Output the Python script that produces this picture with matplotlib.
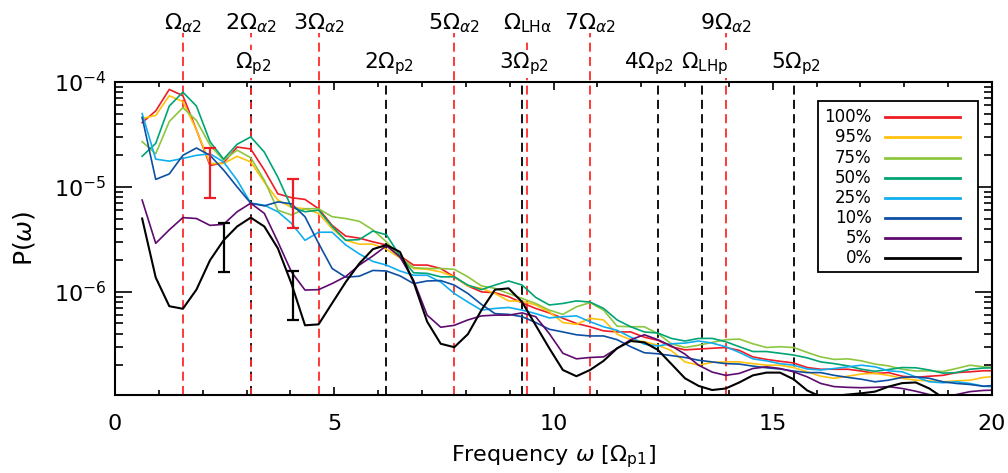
import numpy as np
import matplotlib
matplotlib.use("Agg")
import matplotlib.pyplot as plt
from matplotlib.ticker import LogLocator, NullFormatter, MultipleLocator, LogFormatterMathtext
from matplotlib.lines import Line2D
from matplotlib.patches import Rectangle

plt.rcParams['font.family'] = ['DejaVu Sans']
plt.rcParams['mathtext.fontset'] = 'dejavusans'
plt.rcParams['lines.scale_dashes'] = False

# ---------------- data ----------------
dw = 0.3095                      # frequency resolution [Omega_p1]
freq = dw * np.arange(2, 66)     # sample frequencies

p100 = [4.1e-5, 5.3e-5, 8.5e-5, 7.4e-5, 3.5e-5, 1.6e-5, 1.7e-5, 2.4e-5, 2.3e-5, 1.45e-5,
        8.6e-6, 7.9e-6, 7.6e-6, 6.2e-6, 4.3e-6, 3.4e-6, 3.25e-6, 3.0e-6, 2.8e-6, 2.2e-6,
        1.8e-6, 1.8e-6, 1.67e-6, 1.39e-6, 1.14e-6, 1.0e-6, 9.8e-7, 9.0e-7, 7.85e-7, 6.95e-7,
        6.3e-7, 5.6e-7, 5.0e-7, 4.65e-7, 4.25e-7, 4.15e-7, 4.15e-7, 3.7e-7, 3.45e-7, 3.0e-7,
        2.8e-7, 2.85e-7, 2.9e-7, 2.95e-7, 2.77e-7, 2.4e-7, 2.27e-7, 2.18e-7, 2.1e-7, 1.9e-7,
        1.83e-7, 1.83e-7, 1.83e-7, 1.76e-7, 1.67e-7, 1.7e-7, 1.57e-7, 1.53e-7, 1.57e-7, 1.6e-7,
        1.7e-7, 1.73e-7, 1.77e-7, 1.77e-7]
p95 = [4.5e-5, 4.8e-5, 7.4e-5, 6.5e-5, 3.5e-5, 1.67e-5, 1.67e-5, 1.96e-5, 1.73e-5, 1.11e-5,
       7.5e-6, 6.4e-6, 6.2e-6, 5.6e-6, 4.0e-6, 3.1e-6, 2.85e-6, 2.85e-6, 2.55e-6, 2.1e-6,
       1.67e-6, 1.64e-6, 1.55e-6, 1.39e-6, 1.14e-6, 1.08e-6, 9.65e-7, 8.2e-7, 8.15e-7, 7.5e-7,
       6.45e-7, 5.1e-7, 4.9e-7, 5.6e-7, 5.4e-7, 3.95e-7, 3.5e-7, 3.35e-7, 3.1e-7, 2.75e-7,
       2.15e-7, 2.0e-7, 2.13e-7, 2.15e-7, 2.15e-7, 2.07e-7, 2.0e-7, 2.0e-7, 1.9e-7, 1.73e-7,
       1.57e-7, 1.5e-7, 1.57e-7, 1.65e-7, 1.67e-7, 1.6e-7, 1.5e-7, 1.44e-7, 1.42e-7, 1.39e-7,
       1.42e-7, 1.44e-7, 1.53e-7, 1.57e-7]
p75 = [2.7e-5, 2.07e-5, 4.2e-5, 5.7e-5, 4.3e-5, 2.5e-5, 1.8e-5, 2.24e-5, 1.9e-5, 1.16e-5,
       6.0e-6, 5.4e-6, 6.2e-6, 6.2e-6, 5.2e-6, 5.0e-6, 4.7e-6, 3.9e-6, 3.0e-6, 2.15e-6,
       1.7e-6, 1.67e-6, 1.67e-6, 1.64e-6, 1.39e-6, 1.14e-6, 1.08e-6, 9.65e-7, 8.65e-7, 7.75e-7,
       6.7e-7, 6.1e-7, 7.2e-7, 7.9e-7, 6.7e-7, 4.7e-7, 4.65e-7, 4.65e-7, 4.0e-7, 3.2e-7,
       2.95e-7, 3.1e-7, 3.3e-7, 3.5e-7, 3.55e-7, 3.2e-7, 2.95e-7, 3.0e-7, 2.95e-7, 2.65e-7,
       2.4e-7, 2.27e-7, 2.3e-7, 2.2e-7, 2.05e-7, 1.97e-7, 1.83e-7, 1.76e-7, 1.77e-7, 1.74e-7,
       1.86e-7, 2.0e-7, 1.93e-7, 1.9e-7]
p50 = [1.96e-5, 2.6e-5, 5.9e-5, 8.0e-5, 5.9e-5, 2.7e-5, 1.84e-5, 2.55e-5, 3.0e-5, 2.15e-5,
       1.24e-5, 6.4e-6, 5.8e-6, 6.0e-6, 4.2e-6, 3.1e-6, 3.15e-6, 3.8e-6, 3.5e-6, 2.2e-6,
       1.52e-6, 1.5e-6, 1.39e-6, 1.39e-6, 1.16e-6, 1.05e-6, 1.16e-6, 1.27e-6, 1.16e-6, 8.85e-7,
       7.5e-7, 7.75e-7, 8.2e-7, 8.0e-7, 6.95e-7, 5.4e-7, 4.65e-7, 4.15e-7, 4.05e-7, 3.6e-7,
       3.4e-7, 3.6e-7, 3.6e-7, 3.35e-7, 3.0e-7, 2.7e-7, 2.7e-7, 2.6e-7, 2.5e-7, 2.35e-7,
       2.15e-7, 2.07e-7, 1.97e-7, 1.83e-7, 1.75e-7, 1.82e-7, 1.9e-7, 1.89e-7, 1.8e-7, 1.68e-7,
       1.7e-7, 1.83e-7, 1.88e-7, 1.89e-7]
p25 = [5.0e-5, 1.84e-5, 1.76e-5, 1.87e-5, 2.0e-5, 2.07e-5, 1.73e-5, 1.16e-5, 7.0e-6, 6.7e-6,
       5.8e-6, 4.5e-6, 3.1e-6, 3.7e-6, 3.7e-6, 2.8e-6, 2.3e-6, 1.95e-6, 1.8e-6, 1.58e-6,
       1.44e-6, 1.44e-6, 1.24e-6, 9.65e-7, 8.0e-7, 6.7e-7, 6.95e-7, 7.1e-7, 6.7e-7, 6.2e-7,
       5.65e-7, 5.8e-7, 5.9e-7, 5.2e-7, 4.65e-7, 4.3e-7, 3.7e-7, 3.17e-7, 3.05e-7, 3.2e-7,
       3.25e-7, 3.4e-7, 3.25e-7, 3.0e-7, 2.65e-7, 2.3e-7, 2.2e-7, 2.07e-7, 2.0e-7, 1.84e-7,
       1.8e-7, 1.86e-7, 1.93e-7, 2.0e-7, 1.93e-7, 1.77e-7, 1.73e-7, 1.55e-7, 1.39e-7, 1.36e-7,
       1.39e-7, 1.34e-7, 1.26e-7, 1.24e-7]
p10 = [4.6e-5, 1.18e-5, 1.33e-5, 2.0e-5, 2.35e-5, 2.0e-5, 1.45e-5, 1.0e-5, 7.0e-6, 6.6e-6,
       7.2e-6, 6.9e-6, 5.2e-6, 2.9e-6, 1.67e-6, 1.38e-6, 1.41e-6, 1.6e-6, 1.58e-6, 1.42e-6,
       1.2e-6, 1.27e-6, 1.28e-6, 1.16e-6, 9.65e-7, 7.6e-7, 6.2e-7, 6.1e-7, 5.8e-7, 5.1e-7,
       4.4e-7, 4.15e-7, 3.9e-7, 3.8e-7, 3.8e-7, 3.5e-7, 3.0e-7, 2.63e-7, 2.57e-7, 2.47e-7,
       2.37e-7, 2.23e-7, 2.15e-7, 2.07e-7, 2.05e-7, 1.96e-7, 1.89e-7, 1.84e-7, 1.76e-7, 1.7e-7,
       1.7e-7, 1.6e-7, 1.53e-7, 1.47e-7, 1.39e-7, 1.44e-7, 1.53e-7, 1.55e-7, 1.5e-7, 1.39e-7,
       1.34e-7, 1.31e-7, 1.26e-7, 1.29e-7]
p5 = [7.5e-6, 2.9e-6, 3.9e-6, 5.1e-6, 5.0e-6, 4.3e-6, 4.4e-6, 5.8e-6, 7.0e-6, 5.6e-6,
      3.0e-6, 1.55e-6, 1.04e-6, 1.05e-6, 1.2e-6, 1.4e-6, 1.8e-6, 2.2e-6, 2.75e-6, 2.15e-6,
      1.29e-6, 6.0e-7, 4.6e-7, 4.8e-7, 5.4e-7, 5.9e-7, 6.0e-7, 6.0e-7, 6.3e-7, 5.8e-7,
      4.0e-7, 2.6e-7, 2.3e-7, 2.37e-7, 2.4e-7, 2.9e-7, 3.5e-7, 3.9e-7, 3.5e-7, 3.05e-7,
      2.55e-7, 2.0e-7, 1.72e-7, 1.6e-7, 1.67e-7, 1.86e-7, 1.93e-7, 1.86e-7, 1.73e-7, 1.55e-7,
      1.34e-7, 1.25e-7, 1.23e-7, 1.22e-7, 1.23e-7, 1.25e-7, 1.2e-7, 1.13e-7, 1.05e-7, 9.8e-8,
      1.05e-7, 1.12e-7, 1.15e-7, 1.16e-7]
p0 = [5.0e-6, 1.37e-6, 7.3e-7, 6.9e-7, 1.05e-6, 2.0e-6, 3.1e-6, 4.2e-6, 5.1e-6, 4.2e-6,
      2.6e-6, 1.2e-6, 4.8e-7, 4.9e-7, 7.8e-7, 1.24e-6, 1.86e-6, 2.55e-6, 2.8e-6, 2.4e-6,
      1.24e-6, 5.2e-7, 3.2e-7, 2.97e-7, 3.95e-7, 6.7e-7, 1.05e-6, 1.08e-6, 8.0e-7, 4.8e-7,
      2.9e-7, 1.8e-7, 1.57e-7, 1.8e-7, 2.2e-7, 2.9e-7, 3.4e-7, 3.3e-7, 2.8e-7, 2.05e-7,
      1.5e-7, 1.27e-7, 1.16e-7, 1.2e-7, 1.37e-7, 1.6e-7, 1.7e-7, 1.7e-7, 1.47e-7, 1.15e-7,
      1.0e-7, 1.02e-7, 1.05e-7, 1.08e-7, 1.12e-7, 1.25e-7, 1.35e-7, 1.37e-7, 1.2e-7, 9.8e-8,
      8.5e-8, 7.5e-8, 7.0e-8, 7.0e-8]

series = [p100, p95, p75, p50, p25, p10, p5, p0]
labels = ['100%', '95%', '75%', '50%', '25%', '10%', '5%', '0%']
colors = ['#ee1c25', '#ffc20e', '#8dc63f', '#00a475', '#11aeef', '#0d4fa3', '#5e0a6e', '#000000']

# representative error bars
err_red_x = [2.17, 4.05]
err_red_lo = [7.9e-6, 4.1e-6]
err_red_hi = [2.35e-5, 1.2e-5]
err_blk_x = [2.49, 4.05]
err_blk_lo = [1.53e-6, 5.4e-7]
err_blk_hi = [4.5e-6, 1.57e-6]

# characteristic frequencies [Omega_p1]
omega_a2 = 1.5475
omega_p2 = 3.095
omega_lha = 9.40
omega_lhp = 13.39
alpha_harm = [1, 2, 3, 5, 7, 9]
alpha_lab = [r'$\Omega_{\alpha2}$', r'$2\Omega_{\alpha2}$', r'$3\Omega_{\alpha2}$',
             r'$5\Omega_{\alpha2}$', r'$7\Omega_{\alpha2}$', r'$9\Omega_{\alpha2}$']
proton_harm = [1, 2, 3, 4, 5]
proton_lab = [r'$\Omega_{\rm p2}$', r'$2\Omega_{\rm p2}$', r'$3\Omega_{\rm p2}$',
              r'$4\Omega_{\rm p2}$', r'$5\Omega_{\rm p2}$']
proton_lab_shift = [0.05, 0.05, 0.05, -0.2, 0.05]

# ---------------- figure ----------------
W, H = 1008, 473
fig = plt.figure(figsize=(W / 100, H / 100), dpi=100)
ax = fig.add_axes([115 / W, 78 / H, 877 / W, 313 / H])
ax.set_yscale('log')
ax.set_xlim(0, 20)
ax.set_ylim(1.04e-7, 1e-4)

RED = '#ff2a2a'
dash = (6.5, 3.8)
xf = ax.get_xaxis_transform()

# black dashed proton lines (inside axes)
for n in proton_harm:
    ax.plot([n * omega_p2] * 2, [0, 1], transform=xf, color='black', lw=1.3,
            dashes=dash, zorder=1)
ax.plot([omega_lhp] * 2, [0, 1], transform=xf, color='black', lw=1.3, dashes=dash, zorder=1)

# red dashed alpha lines (extend above axes)
for n in alpha_harm:
    ln, = ax.plot([n * omega_a2] * 2, [0, 1.157], transform=xf, color=RED, lw=1.3,
                  zorder=1.1, clip_on=False)
    ln.set_dashes(dash)
    if n == 2:
        ln.set_dashes((5.0, 5.3))
ln, = ax.plot([omega_lha] * 2, [0, 1.14], transform=xf, color=RED, lw=1.3,
              zorder=1.1, clip_on=False)
ln.set_dashes(dash)

# spectra
for s, c in zip(series, colors):
    ax.plot(freq, s, color=c, lw=1.5 if c == '#000000' else 1.2, zorder=2)

# error bars
rc = np.sqrt(np.array(err_red_lo) * np.array(err_red_hi))
ax.errorbar(err_red_x, rc, yerr=[rc - np.array(err_red_lo), np.array(err_red_hi) - rc],
            fmt='none', ecolor='#ee1c25', elinewidth=1.6, capsize=4, capthick=1.6, zorder=3)
bc = np.sqrt(np.array(err_blk_lo) * np.array(err_blk_hi))
ax.errorbar(err_blk_x, bc, yerr=[bc - np.array(err_blk_lo), np.array(err_blk_hi) - bc],
            fmt='none', ecolor='black', elinewidth=1.6, capsize=4, capthick=1.6, zorder=3)

# labels above the axes
for n, lab in zip(alpha_harm, alpha_lab):
    ax.text(n * omega_a2, 1.169, lab, transform=xf, ha='center', va='baseline',
            fontsize=16, zorder=5)
ax.text(omega_lha, 1.169, r'$\Omega_{\rm LH\alpha}$', transform=xf, ha='center',
        va='baseline', fontsize=16, zorder=5)
for n, lab, sh in zip(proton_harm, proton_lab, proton_lab_shift):
    ax.text(n * omega_p2 + sh, 1.042, lab, transform=xf, ha='center', va='baseline',
            fontsize=15.5, zorder=5,
            bbox=dict(facecolor='white', edgecolor='none', pad=0.2))
ax.text(omega_lhp + 0.05, 1.042, r'$\Omega_{\rm LHp}$', transform=xf, ha='center',
        va='baseline', fontsize=15.5, zorder=5,
        bbox=dict(facecolor='white', edgecolor='none', pad=0.2))

# ticks
ax.xaxis.set_major_locator(MultipleLocator(5))
ax.xaxis.set_minor_locator(MultipleLocator(1))
ax.yaxis.set_major_locator(LogLocator(base=10, numticks=10))
ax.yaxis.set_minor_locator(LogLocator(base=10, subs=np.arange(2, 10), numticks=10))
ax.yaxis.set_major_formatter(LogFormatterMathtext())
ax.yaxis.set_minor_formatter(NullFormatter())
ax.tick_params(which='both', direction='in', top=True, right=True, labelsize=16,
               width=1.2)
ax.tick_params(axis='x', which='major', length=6, pad=14)
ax.tick_params(axis='x', which='minor', length=3.5)
ax.tick_params(axis='y', which='major', length=12, pad=6)
ax.tick_params(axis='y', which='minor', length=6)
for sp in ax.spines.values():
    sp.set_linewidth(1.5)

ax.set_xlabel(r'Frequency $\omega$ [$\Omega_{\rm p1}$]', fontsize=16, labelpad=6)
ax.set_ylabel(r'P($\omega$)', fontsize=18, labelpad=12)

# legend (manual, text right-aligned, line on the right)
ax.add_patch(Rectangle((0.8016, 0.393), 0.1824, 0.546, transform=ax.transAxes,
                       facecolor='white', edgecolor='black', lw=1.3, zorder=6))
row0 = 0.887
drow = 0.0643
for i, (lab, c) in enumerate(zip(labels, colors)):
    yy = row0 - i * drow
    ax.text(0.8626, yy, lab, transform=ax.transAxes, ha='right', va='center',
            fontsize=12, zorder=7)
    ax.add_line(Line2D([0.8780, 0.9635], [yy, yy], transform=ax.transAxes, color=c,
                       lw=2.0, zorder=7))

fig.savefig('out.png', dpi=100)
